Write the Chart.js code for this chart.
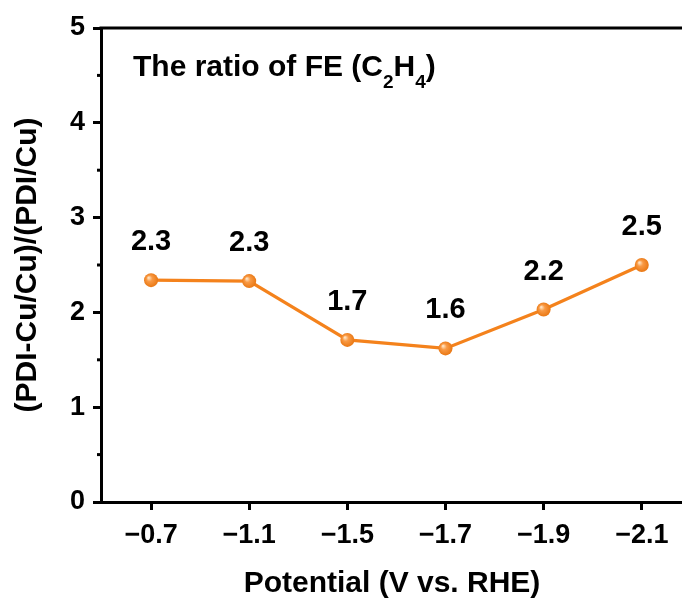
<!DOCTYPE html>
<html>
<head>
<meta charset="utf-8">
<script src="https://cdn.jsdelivr.net/npm/chart.js@4.4.1/dist/chart.umd.min.js"></script>
<style>
  html, body { margin: 0; padding: 0; background: #fff; overflow: hidden; }
  #wrap { position: relative; width: 690px; height: 601px; }
</style>
</head>
<body>
<div id="wrap"><canvas id="c"></canvas></div>
<script>
// ---- data ----
const potentials = ['\u22120.7', '\u22121.1', '\u22121.5', '\u22121.7', '\u22121.9', '\u22122.1'];
const ratioValues = [2.34, 2.33, 1.71, 1.62, 2.03, 2.50];
const pointLabels = ['2.3', '2.3', '1.7', '1.6', '2.2', '2.5'];
const yTicks = [0, 1, 2, 3, 4, 5];
const yMinorTicks = [0.5, 1.5, 2.5, 3.5, 4.5];

const FONT = "'Liberation Sans', Arial, sans-serif";
const ORANGE = '#F4821C';

// category positions (index) for the x axis
const points = ratioValues.map((v, i) => ({ x: i, y: v }));

const decorPlugin = {
  id: 'decor',
  afterDraw(chart) {
    const ctx = chart.ctx;
    const a = chart.chartArea;
    const ys = chart.scales.y;
    ctx.save();
    // top frame line
    ctx.strokeStyle = '#000';
    ctx.lineWidth = 3;
    ctx.beginPath();
    ctx.moveTo(a.left - 1.5, a.top);
    ctx.lineTo(chart.width, a.top);
    ctx.stroke();
    // minor ticks on y axis
    yMinorTicks.forEach(v => {
      const py = ys.getPixelForValue(v);
      ctx.beginPath();
      ctx.moveTo(a.left - 4, py);
      ctx.lineTo(a.left, py);
      ctx.stroke();
    });
    // annotation title with subscripts
    ctx.fillStyle = '#000';
    ctx.textBaseline = 'alphabetic';
    ctx.textAlign = 'left';
    let x = a.left + 32;
    const base = a.top + 48;
    const parts = [
      {t: 'The ratio of FE (C', sub: false},
      {t: '2', sub: true},
      {t: 'H', sub: false},
      {t: '4', sub: true},
      {t: ')', sub: false}
    ];
    parts.forEach(p => {
      ctx.font = p.sub ? 'bold 19px ' + FONT : 'bold 30px ' + FONT;
      ctx.fillText(p.t, x, p.sub ? base + 12 : base);
      x += ctx.measureText(p.t).width;
    });
    // value labels above points
    const meta = chart.getDatasetMeta(0);
    ctx.font = 'bold 29px ' + FONT;
    ctx.textAlign = 'center';
    ctx.textBaseline = 'middle';
    meta.data.forEach((pt, i) => {
      ctx.fillText(pointLabels[i], pt.x, pt.y - 38);
    });
    ctx.restore();
  }
};

function sphere(context) {
  const chart = context.chart;
  const i = context.dataIndex;
  if (!chart.scales.x || !chart.scales.y || i === undefined) return ORANGE;
  const px = chart.scales.x.getPixelForValue(i);
  const py = chart.scales.y.getPixelForValue(ratioValues[i]);
  if (!isFinite(px) || !isFinite(py)) return ORANGE;
  const g = chart.ctx.createRadialGradient(px - 2.5, py - 2.5, 0.5, px, py, 7.5);
  g.addColorStop(0, '#FFE2BF');
  g.addColorStop(0.35, '#F99A45');
  g.addColorStop(1, '#E8750F');
  return g;
}

new Chart(document.getElementById('c'), {
  type: 'line',
  data: {
    datasets: [{
      data: points,
      borderColor: ORANGE,
      borderWidth: 3.2,
      pointRadius: 7,
      pointBorderWidth: 0,
      pointBackgroundColor: sphere,
      pointBorderColor: 'rgba(0,0,0,0)',
      tension: 0
    }]
  },
  options: {
    responsive: true,
    maintainAspectRatio: false,
    animation: false,
    events: [],
    layout: { padding: { top: 28, right: 0, left: 0, bottom: 0 } },
    plugins: { legend: { display: false }, tooltip: { enabled: false } },
    scales: {
      x: {
        type: 'linear',
        min: -0.51,
        max: 5.42,
        afterBuildTicks(s) { s.ticks = potentials.map((_, i) => ({ value: i })); },
        border: { display: true, color: '#000', width: 3 },
        grid: { display: true, drawOnChartArea: false, drawTicks: true, tickLength: 8, tickWidth: 3, tickColor: '#000' },
        ticks: { color: '#000', font: { family: FONT, size: 27, weight: 'bold' }, padding: 9, maxRotation: 0, autoSkip: false,
                 callback: (v) => potentials[v] },
        title: { display: true, text: 'Potential (V vs. RHE)', color: '#000', font: { family: FONT, size: 30, weight: 'bold', lineHeight: 1 }, padding: { top: 0, bottom: 2 } },
        afterFit(s) { s.height = 99; s.paddingLeft = 0; s.paddingRight = 0; }
      },
      y: {
        min: 0, max: 5,
        afterBuildTicks(s) { s.ticks = yTicks.map(v => ({ value: v })); },
        border: { display: true, color: '#000', width: 3 },
        grid: { display: true, drawOnChartArea: false, drawTicks: true, tickLength: 8, tickWidth: 3, tickColor: '#000' },
        ticks: { color: '#000', font: { family: FONT, size: 27, weight: 'bold' }, padding: 8 },
        title: { display: true, text: '(PDI-Cu/Cu)/(PDI/Cu)', color: '#000', font: { family: FONT, size: 30, weight: 'bold', lineHeight: 1 }, padding: { top: 13, bottom: 0 } },
        afterFit(s) { s.width = 101; s.paddingTop = 0; s.paddingBottom = 0; }
      }
    }
  },
  plugins: [decorPlugin]
});
</script>
</body>
</html>
